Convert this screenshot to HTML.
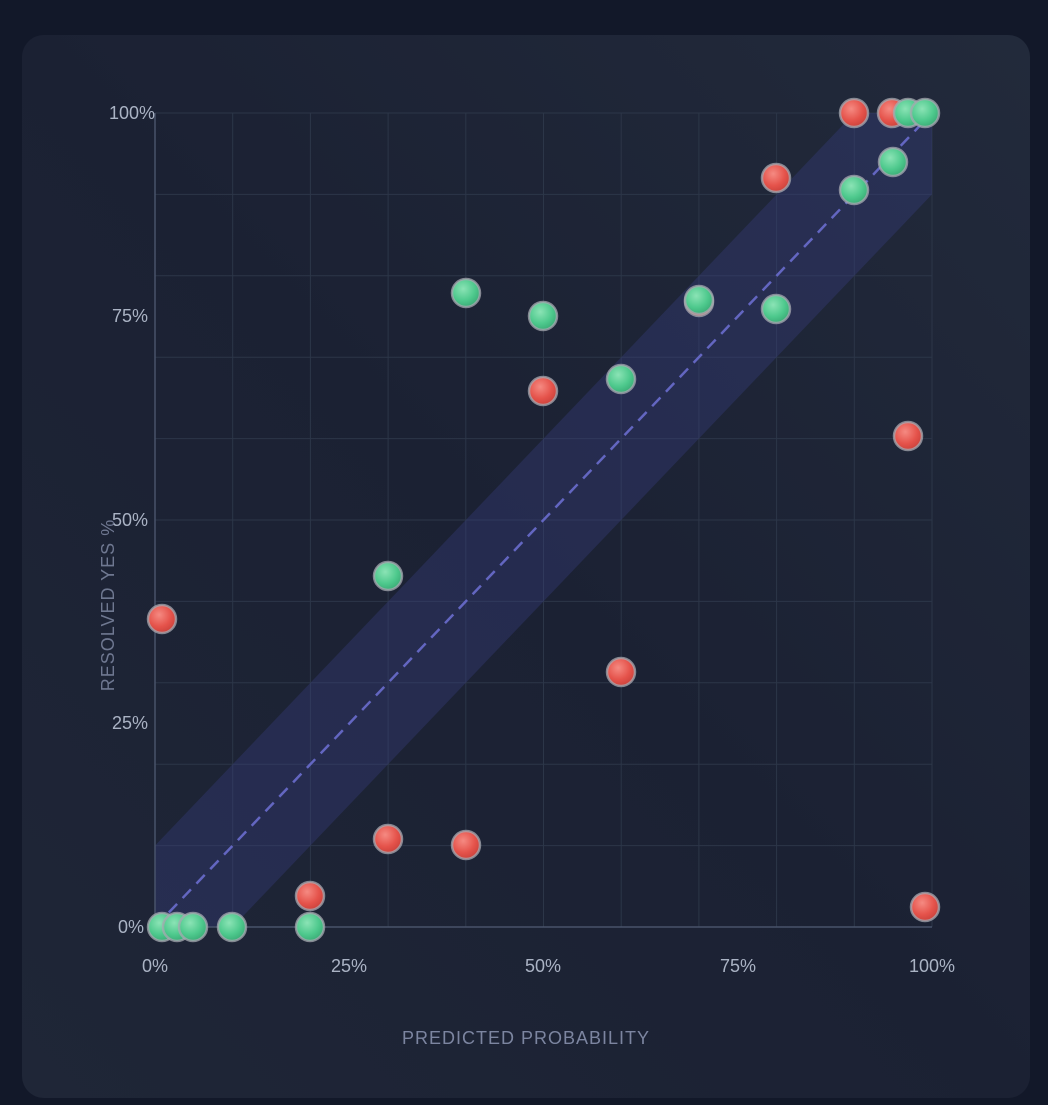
<!DOCTYPE html>
<html><head><meta charset="utf-8"><style>
html,body{margin:0;padding:0;background:#111827;}
body{width:1048px;height:1100px;overflow:hidden;position:relative;font-family:"Liberation Sans",sans-serif;}
</style></head><body>
<svg width="1048" height="1100" viewBox="0 0 1048 1100" xmlns="http://www.w3.org/2000/svg">
<defs>
<linearGradient id="card" x1="1" y1="0" x2="0" y2="1">
<stop offset="0" stop-color="#222a3b"/><stop offset="0.5" stop-color="#1b2133"/><stop offset="1" stop-color="#1f2637"/></linearGradient>
<radialGradient id="r" cx="0.4" cy="0.35" r="0.7"><stop offset="0" stop-color="#f58a82"/><stop offset="0.6" stop-color="#e5534b"/><stop offset="1" stop-color="#c9403a"/></radialGradient>
<radialGradient id="g" cx="0.4" cy="0.35" r="0.7"><stop offset="0" stop-color="#8be3b5"/><stop offset="0.6" stop-color="#4ec98d"/><stop offset="1" stop-color="#38a974"/></radialGradient>
<clipPath id="pc"><rect x="155" y="113" width="777" height="814"/></clipPath>
</defs>
<rect width="1048" height="1100" fill="#121829"/>
<rect x="22" y="35" width="1008" height="1063" rx="22" fill="url(#card)"/>
<g stroke="#2c3648" stroke-width="1">
<line x1="232.7" y1="113" x2="232.7" y2="927"/><line x1="310.4" y1="113" x2="310.4" y2="927"/>
<line x1="388.1" y1="113" x2="388.1" y2="927"/><line x1="465.8" y1="113" x2="465.8" y2="927"/>
<line x1="543.5" y1="113" x2="543.5" y2="927"/><line x1="621.2" y1="113" x2="621.2" y2="927"/>
<line x1="698.9" y1="113" x2="698.9" y2="927"/><line x1="776.6" y1="113" x2="776.6" y2="927"/>
<line x1="854.3" y1="113" x2="854.3" y2="927"/><line x1="932" y1="113" x2="932" y2="927"/>
<line x1="155" y1="845.6" x2="932" y2="845.6"/><line x1="155" y1="764.2" x2="932" y2="764.2"/>
<line x1="155" y1="682.8" x2="932" y2="682.8"/><line x1="155" y1="601.4" x2="932" y2="601.4"/>
<line x1="155" y1="520" x2="932" y2="520"/><line x1="155" y1="438.6" x2="932" y2="438.6"/>
<line x1="155" y1="357.2" x2="932" y2="357.2"/><line x1="155" y1="275.8" x2="932" y2="275.8"/>
<line x1="155" y1="194.4" x2="932" y2="194.4"/><line x1="155" y1="113" x2="932" y2="113"/>
</g>
<g clip-path="url(#pc)">
<polygon points="155,927 155,845.6 854.3,113 932,113 932,194.4 232.7,927" fill="#3a3f85" fill-opacity="0.35"/>
</g>
<line x1="155" y1="927" x2="932" y2="113" stroke="#6366c1" stroke-width="2.5" stroke-dasharray="12,8"/>
<line x1="155" y1="113" x2="155" y2="927" stroke="#48536a" stroke-width="1.5"/>
<line x1="155" y1="927" x2="932" y2="927" stroke="#48536a" stroke-width="1.5"/>
<g fill="#aab3c4" font-size="18" text-anchor="end">
<text x="155" y="119">100%</text><text x="148" y="322">75%</text><text x="148" y="526">50%</text>
<text x="148" y="729">25%</text><text x="144" y="933">0%</text></g>
<g fill="#aab3c4" font-size="18" text-anchor="middle">
<text x="155" y="972">0%</text><text x="349" y="972">25%</text><text x="543" y="972">50%</text>
<text x="738" y="972">75%</text><text x="932" y="972">100%</text></g>
<text x="526" y="1044" fill="#7c85a0" font-size="18" text-anchor="middle" letter-spacing="1">PREDICTED PROBABILITY</text>
<text transform="translate(114,605) rotate(-90)" fill="#6f7891" font-size="18" text-anchor="middle" letter-spacing="1">RESOLVED YES %</text>
<g stroke="#a7aab2" stroke-opacity="0.75" stroke-width="2.5">
<circle cx="699" cy="302" r="14" fill="url(#r)"/>
<circle cx="854" cy="113" r="14" fill="url(#r)"/><circle cx="892" cy="113" r="14" fill="url(#r)"/>
<circle cx="776" cy="178" r="14" fill="url(#r)"/><circle cx="543" cy="391" r="14" fill="url(#r)"/>
<circle cx="908" cy="436" r="14" fill="url(#r)"/><circle cx="162" cy="619" r="14" fill="url(#r)"/>
<circle cx="621" cy="672" r="14" fill="url(#r)"/><circle cx="388" cy="839" r="14" fill="url(#r)"/>
<circle cx="466" cy="845" r="14" fill="url(#r)"/><circle cx="310" cy="896" r="14" fill="url(#r)"/>
<circle cx="925" cy="907" r="14" fill="url(#r)"/>
<circle cx="908" cy="113" r="14" fill="url(#g)"/><circle cx="925" cy="113" r="14" fill="url(#g)"/>
<circle cx="893" cy="162" r="14" fill="url(#g)"/><circle cx="854" cy="190" r="14" fill="url(#g)"/>
<circle cx="466" cy="293" r="14" fill="url(#g)"/><circle cx="543" cy="316" r="14" fill="url(#g)"/>
<circle cx="699" cy="300" r="14" fill="url(#g)"/><circle cx="776" cy="309" r="14" fill="url(#g)"/>
<circle cx="621" cy="379" r="14" fill="url(#g)"/><circle cx="388" cy="576" r="14" fill="url(#g)"/>
<circle cx="162" cy="927" r="14" fill="url(#g)"/><circle cx="177" cy="927" r="14" fill="url(#g)"/>
<circle cx="193" cy="927" r="14" fill="url(#g)"/><circle cx="232" cy="927" r="14" fill="url(#g)"/>
<circle cx="310" cy="927" r="14" fill="url(#g)"/>
</g>
</svg>
</body></html>
